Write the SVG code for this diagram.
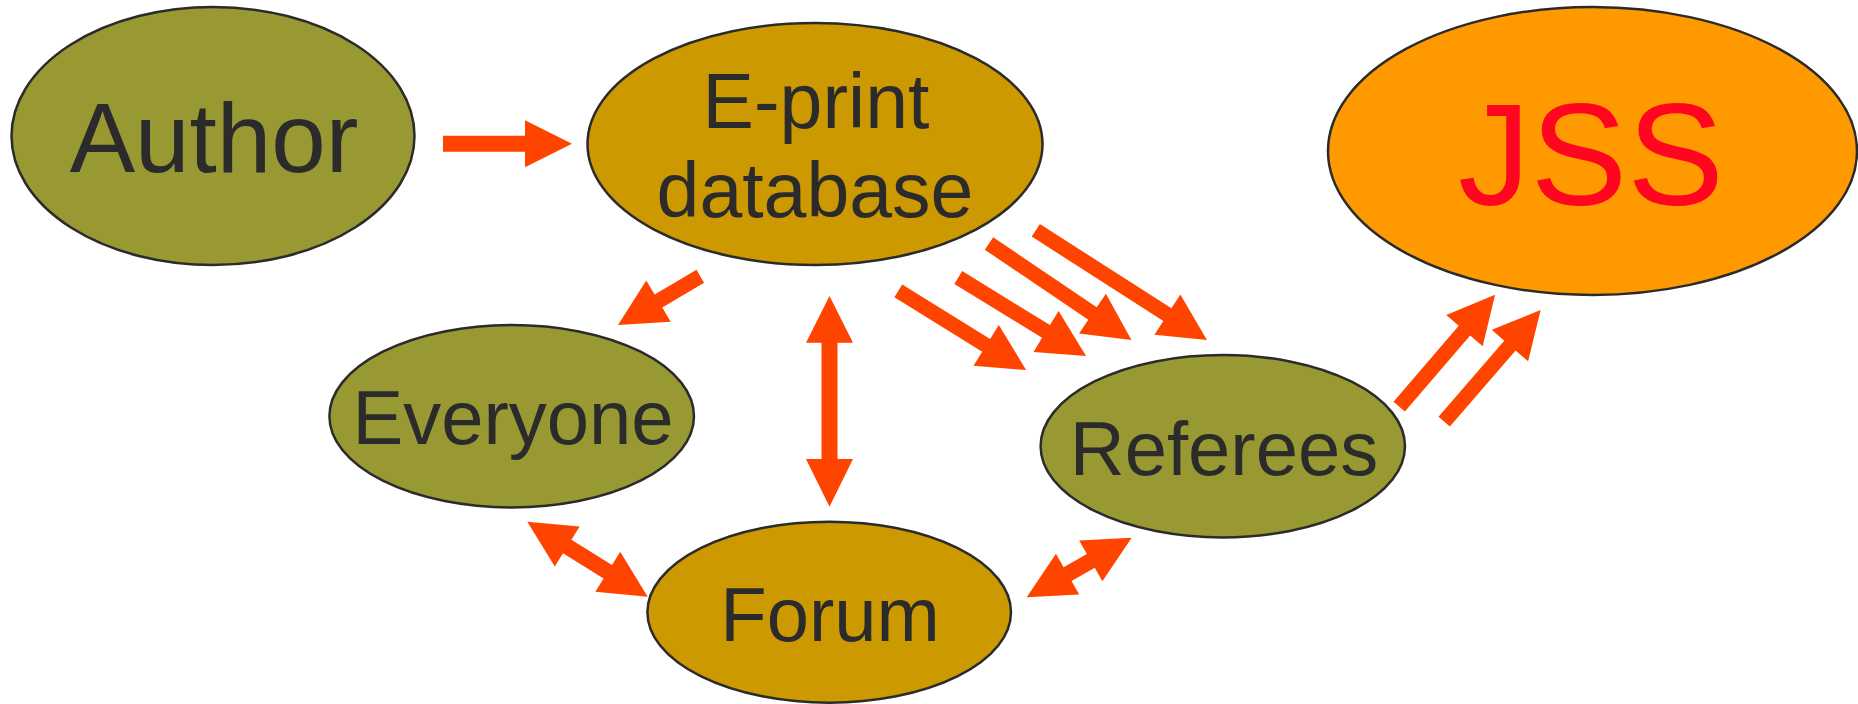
<svg xmlns="http://www.w3.org/2000/svg" width="1858" height="704" viewBox="0 0 1858 704">
<style>
.node{stroke:#2b2b2b;stroke-width:2.5}
.olive{fill:#999933}
.gold{fill:#cc9900}
.orange{fill:#ff9900}
.lbl{font-family:"Liberation Sans",Arial,sans-serif;fill:#2b2b2b;text-anchor:middle}
.arr{fill:#ff4400;stroke:none}
</style>
<rect width="1858" height="704" fill="#ffffff"/>
<g id="connectors">
<path class="arr" d="M443,135.7 H525 V120.2 L572,143.7 L525,167.2 V151.7 H443 Z"/>
<path class="arr" transform="translate(700.3,276.3) rotate(149.4)" d="M0,-7.5 H48.6 V-24 L95.6,0 L48.6,24 V7.5 H0 Z"/>
<path class="arr" d="M829.5,296 L853,342.7 H837.5 V459 H853 L829.5,506.7 L806,459 H821.5 V342.7 H806 Z"/>
<path class="arr" transform="translate(898.3,290.8) rotate(31.8)" d="M0,-7.5 H103.4 V-24 L150.4,0 L103.4,24 V7.5 H0 Z"/>
<path class="arr" transform="translate(958.3,277.5) rotate(31.6)" d="M0,-7.5 H103 V-24 L150,0 L103,24 V7.5 H0 Z"/>
<path class="arr" transform="translate(989,243.5) rotate(34.1)" d="M0,-7.5 H125 V-24 L172,0 L125,24 V7.5 H0 Z"/>
<path class="arr" transform="translate(1035.8,230.3) rotate(32.65)" d="M0,-7.5 H156.3 V-24 L203.3,0 L156.3,24 V7.5 H0 Z"/>
<path class="arr" transform="translate(1399.2,406.7) rotate(-49.4)" d="M0,-7.5 H100.3 V-24 L147.3,0 L100.3,24 V7.5 H0 Z"/>
<path class="arr" transform="translate(1444.2,421.7) rotate(-49.2)" d="M0,-7.5 H100.6 V-24 L147.6,0 L100.6,24 V7.5 H0 Z"/>
<path class="arr" transform="translate(527.3,521.7) rotate(31.9)" d="M0,0 L47,-23.5 V-8 H94.8 V-23.5 L141.8,0 L94.8,23.5 V8 H47 V23.5 Z"/>
<path class="arr" transform="translate(1026.7,597.3) rotate(-29.6)" d="M0,0 L47,-23.5 V-8 H73.7 V-23.5 L120.7,0 L73.7,23.5 V8 H47 V23.5 Z"/>
</g>
<g id="author">
<ellipse class="node olive" cx="213" cy="136" rx="201.5" ry="129"/>
<text class="lbl" x="214" y="172" font-size="98">Author</text>
</g>
<g id="eprint">
<ellipse class="node gold" cx="815" cy="144" rx="227.5" ry="121"/>
<text class="lbl" x="816" y="128" font-size="77">E-print</text>
<text class="lbl" x="815" y="217" font-size="77">database</text>
</g>
<g id="jss">
<ellipse class="node orange" cx="1592.5" cy="151" rx="264.5" ry="144"/>
<text class="lbl" x="1591" y="205" font-size="145" style="fill:#ff0620">JSS</text>
</g>
<g id="everyone">
<ellipse class="node olive" cx="511.7" cy="416.2" rx="182.3" ry="91.2"/>
<text class="lbl" x="513" y="444" font-size="76">Everyone</text>
</g>
<g id="referees">
<ellipse class="node olive" cx="1222.8" cy="446.2" rx="182.2" ry="91.2"/>
<text class="lbl" x="1224" y="475" font-size="76">Referees</text>
</g>
<g id="forum">
<ellipse class="node gold" cx="829.2" cy="612.2" rx="181.8" ry="90.5"/>
<text class="lbl" x="830" y="641" font-size="76">Forum</text>
</g>
</svg>
